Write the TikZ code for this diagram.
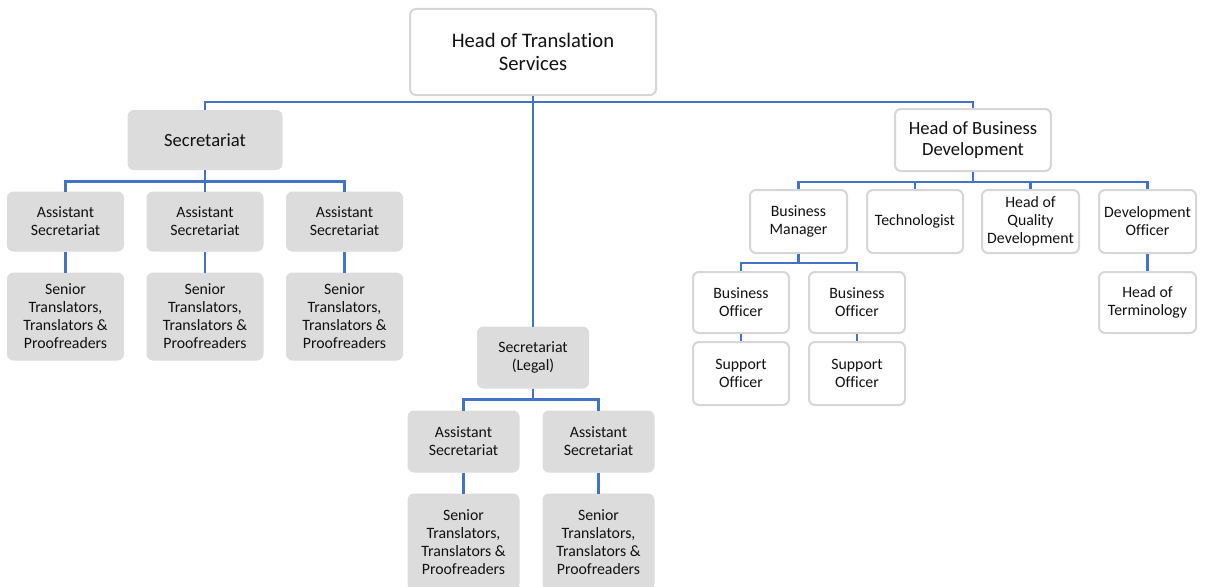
\documentclass[tikz,border=0pt]{standalone}
\usepackage{fontspec}
\setmainfont{Carlito}[Ligatures=NoCommon]
\definecolor{linkblue}{HTML}{4472C4}
\definecolor{boxgray}{HTML}{DCDCDC}
\definecolor{edgegray}{HTML}{D6D6D6}
\definecolor{textblack}{HTML}{111111}
\begin{document}
\begin{tikzpicture}[x=1pt,y=-1pt,
  base/.style={rounded corners=6pt, align=center, inner sep=0pt, text=textblack,
    font=\fontsize{15.8}{18}\selectfont},
  graybox/.style={base, fill=boxgray, draw=boxgray, line width=1pt},
  whitebox/.style={base, fill=white, draw=edgegray, line width=2pt},
  link/.style={draw=linkblue, line width=2.4pt},
  sz/.style 2 args={minimum width=#1pt, minimum height=#2pt}]
\useasboundingbox (0,0) rectangle (1212,586);

% top level
\node[whitebox, sz={246}{86}, font=\fontsize{20.6}{23}\selectfont] (head) at (533,52) {Head of Translation\\Services};

% secretariat branch
\node[graybox, sz={154}{59}, font=\fontsize{18.6}{21}\selectfont] (sec) at (205,140) {Secretariat};
\node[graybox, sz={116}{59}] (as1) at (65.5,221.5) {Assistant\\Secretariat};
\node[graybox, sz={116}{59}] (as2) at (205,221.5) {Assistant\\Secretariat};
\node[graybox, sz={116}{59}] (as3) at (344.5,221.5) {Assistant\\Secretariat};
\node[graybox, sz={116}{87}] (st1) at (65.5,316.5) {Senior\\Translators,\\Translators \&\\Proofreaders};
\node[graybox, sz={116}{87}] (st2) at (205,316.5) {Senior\\Translators,\\Translators \&\\Proofreaders};
\node[graybox, sz={116}{87}] (st3) at (344.5,316.5) {Senior\\Translators,\\Translators \&\\Proofreaders};

% legal secretariat branch
\node[graybox, sz={111}{61}] (legal) at (533,357.5) {Secretariat\\(Legal)};
\node[graybox, sz={111}{61}] (la1) at (463.5,441.5) {Assistant\\Secretariat};
\node[graybox, sz={111}{61}] (la2) at (598.5,441.5) {Assistant\\Secretariat};
\node[graybox, sz={111}{96}] (ls1) at (463.5,542) {Senior\\Translators,\\Translators \&\\Proofreaders};
\node[graybox, sz={111}{96}] (ls2) at (598.5,542) {Senior\\Translators,\\Translators \&\\Proofreaders};

% business development branch
\node[whitebox, sz={156}{62}, font=\fontsize{18.6}{21}\selectfont] (hbd) at (973,140) {Head of Business\\Development};
\node[whitebox, sz={97}{63}] (bm) at (798.5,221.5) {Business\\Manager};
\node[whitebox, sz={96}{63}] (tech) at (915,221.5) {Technologist};
\node[whitebox, sz={97}{63}] (hqd) at (1030.5,221.5) {Head of\\Quality\\Development};
\node[whitebox, sz={97}{63}] (dev) at (1147.5,221.5) {Development\\Officer};
\node[whitebox, sz={96}{61}] (bo1) at (741,302.5) {Business\\Officer};
\node[whitebox, sz={96}{61}] (bo2) at (857,302.5) {Business\\Officer};
\node[whitebox, sz={96}{63}] (so1) at (741,373.5) {Support\\Officer};
\node[whitebox, sz={96}{63}] (so2) at (857,373.5) {Support\\Officer};
\node[whitebox, sz={97}{61}] (term) at (1147.5,302.5) {Head of\\Terminology};

% connectors
\draw[link] (head.south) -- ++(0,6) -| (sec.north);
\draw[link] (head.south) -- ++(0,6) -| (hbd.north);
\draw[link] (head.south) -- (legal.north);

\foreach \c in {as1,as2,as3} \draw[link] (sec.south) -- ++(0,11.5) -| (\c.north);
\draw[link] (as1.south) -- (st1.north);
\draw[link] (as2.south) -- (st2.north);
\draw[link] (as3.south) -- (st3.north);

\foreach \c in {la1,la2} \draw[link] (legal.south) -- ++(0,11) -| (\c.north);
\draw[link] (la1.south) -- (ls1.north);
\draw[link] (la2.south) -- (ls2.north);

\foreach \c in {bm,tech,hqd,dev} \draw[link] (hbd.south) -- ++(0,10) -| (\c.north);
\foreach \c in {bo1,bo2} \draw[link] (bm.south) -- ++(0,9) -| (\c.north);
\draw[link] (bo1.south) -- (so1.north);
\draw[link] (bo2.south) -- (so2.north);
\draw[link] (dev.south) -- (term.north);
\end{tikzpicture}
\end{document}
